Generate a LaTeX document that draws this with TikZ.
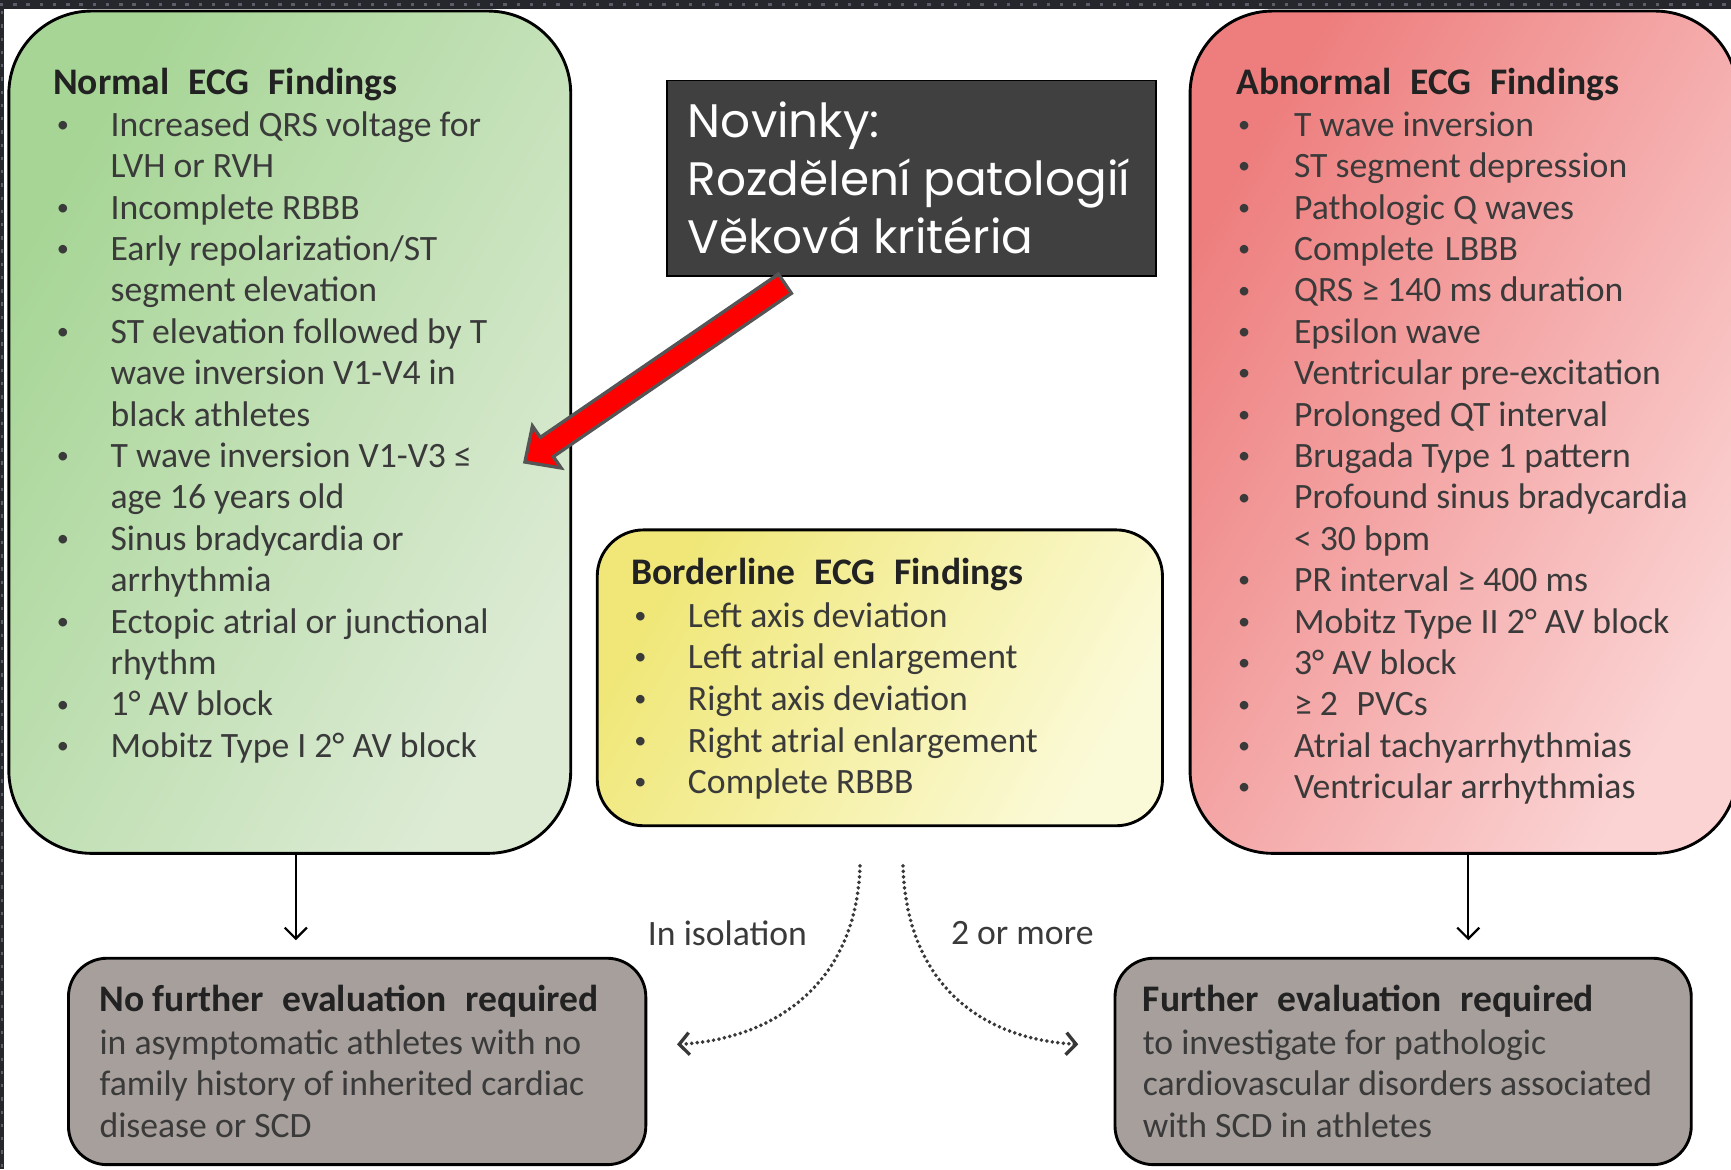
\documentclass[tikz,border=0pt]{standalone}
\usepackage{fontspec}
\setmainfont{Carlito}
\newfontfamily\gothic{Poppins}
\usetikzlibrary{arrows.meta}
\definecolor{bandcol}{HTML}{25272D}
\definecolor{banddot}{HTML}{5A5E68}
\definecolor{gA}{HTML}{A6D595}
\definecolor{gB}{HTML}{DDEBD5}
\definecolor{rA}{HTML}{EE7E7E}
\definecolor{rB}{HTML}{FBD3D3}
\definecolor{yA}{HTML}{F0E778}
\definecolor{yB}{HTML}{FBFAD8}
\definecolor{grayfill}{HTML}{A69F9B}
\definecolor{darkfill}{HTML}{404040}
\definecolor{titlecol}{HTML}{222222}
\definecolor{itemcol}{HTML}{3A3A3A}
\definecolor{arrowedge}{HTML}{555555}
\definecolor{dotcol}{HTML}{383838}
\begin{document}
\begin{tikzpicture}[x=1pt,y=-1pt,
  box/.style={draw=black, line width=2.6pt, inner sep=0pt},
  ttl/.style={font=\fontsize{34}{37.5}\bfseries\selectfont, text=titlecol, inner sep=0pt, anchor=base west},
  it/.style={font=\fontsize{32.3}{37.5}\selectfont, text=itemcol, inner sep=0pt, anchor=base west},
  bu/.style={font=\fontsize{22}{37.5}\selectfont, text=itemcol, inner sep=0pt, anchor=base},
  nov/.style={font=\gothic\fontsize{42.5}{50}\selectfont, text=white, inner sep=0pt, anchor=base west},
  blk/.style={draw=black, line width=2pt, -{Straight Barb[length=10pt,width=20pt,line width=2pt]}},
  dots/.style={draw=dotcol, line width=3.6pt, line cap=round, dash pattern=on 0pt off 5pt,
    -{Straight Barb[length=9pt,width=20pt,line width=3pt]}},
  lbl/.style={font=\fontsize{32.3}{37.5}\selectfont, text=itemcol, inner sep=0pt}
]
\useasboundingbox (0,0) rectangle (1568,1059);
\fill[white] (0,0) rectangle (1568,1059);
% frame bands
\fill[bandcol] (0,0) rectangle (1568,8);
\fill[bandcol] (0,0) rectangle (4,1059);
\draw[banddot, line width=3pt, dash pattern=on 3pt off 9pt] (0,4) -- (1568,4);
\draw[banddot, line width=1.5pt, dash pattern=on 3pt off 9pt] (2,10) -- (2,1059);

% main boxes
\node[box, minimum width=509, minimum height=763, rounded corners=75,
  left color=gA, right color=gB, shading angle=60] (normal) at (262.5,391.5) {};
\node[box, minimum width=496, minimum height=763, rounded corners=75,
  left color=rA, right color=rB, shading angle=60] (abnormal) at (1326,391.5) {};
\node[box, minimum width=512, minimum height=268, rounded corners=42,
  left color=yA, right color=yB, shading angle=60] (border) at (797,614) {};
\node[box, fill=grayfill, minimum width=523, minimum height=187, rounded corners=35] (nofurther) at (323.5,961.5) {};
\node[box, fill=grayfill, minimum width=522, minimum height=187, rounded corners=35] (further) at (1271,961.5) {};
\node[draw=black, line width=1.5pt, fill=darkfill, minimum width=443, minimum height=177, inner sep=0pt] (novinky) at (825.5,161.5) {};

% Normal findings
\node[ttl] (ntitle) at (48,86) {Normal\hspace{.5em}ECG\hspace{.5em}Findings};
\foreach \b/\t [count=\k from 0] in {
  1/{Increased QRS voltage for},
  0/{LVH or RVH},
  1/{Incomplete RBBB},
  1/{Early repolarization/ST},
  0/{segment elevation},
  1/{ST elevation followed by T},
  0/{wave inversion V1-V4 in},
  0/{black athletes},
  1/{T wave inversion V1-V3 ≤},
  0/{age 16 years old},
  1/{Sinus bradycardia or},
  0/{arrhythmia},
  1/{Ectopic atrial or junctional},
  0/{rhythm},
  1/{1° AV block},
  1/{Mobitz Type I 2° AV block}} {
  \node[it] (n\k) at (100,{123.5+37.5*\k}) {\t};
  \ifnum\b=1 \node[bu] (nb\k) at (57,{120+37.5*\k}) {\textbullet}; \fi
}

% Abnormal findings
\node[ttl] (atitle) at (1120,86) {Abnormal\hspace{.5em}ECG\hspace{.5em}Findings};
\foreach \b/\t [count=\k from 0] in {
  1/{T wave inversion},
  1/{ST segment depression},
  1/{Pathologic Q waves},
  1/{Complete\hspace{.3em}LBBB},
  1/{QRS ≥ 140 ms duration},
  1/{Epsilon wave},
  1/{Ventricular pre-excitation},
  1/{Prolonged QT interval},
  1/{Brugada Type 1 pattern},
  1/{Profound sinus bradycardia},
  0/{< 30 bpm},
  1/{PR interval ≥ 400 ms},
  1/{Mobitz Type II 2° AV block},
  1/{3° AV block},
  1/{≥ 2\hspace{.3em} PVCs},
  1/{Atrial tachyarrhythmias},
  1/{Ventricular arrhythmias}} {
  \node[it] (a\k) at (1172,{123.5+37.5*\k}) {\t};
  \ifnum\b=1 \node[bu] (ab\k) at (1127,{120+37.5*\k}) {\textbullet}; \fi
}

% Borderline findings
\node[ttl] (btitle) at (572,529.5) {Borderline\hspace{.5em}ECG\hspace{.5em}Findings};
\foreach \t [count=\k from 0] in {
  {Left axis deviation},
  {Left atrial enlargement},
  {Right axis deviation},
  {Right atrial enlargement},
  {Complete RBBB}} {
  \node[it] (b\k) at (623,{568+37.75*\k}) {\t};
  \node[bu] (bb\k) at (580,{564.5+37.75*\k}) {\textbullet};
}

% Gray outcome boxes
\node[ttl] (nftitle) at (90,916) {No further\hspace{.5em}evaluation\hspace{.5em}required};
\node[it] (nf1) at (90,955) {in asymptomatic athletes with no};
\node[it] (nf2) at (90,992.5) {family history of inherited cardiac};
\node[it] (nf3) at (90,1030) {disease or SCD};
\node[ttl] (ftitle) at (1035,916) {Further\hspace{.5em}evaluation\hspace{.5em}required};
\node[it] (f1) at (1035,955) {to investigate for pathologic};
\node[it] (f2) at (1035,992.5) {cardiovascular disorders associated};
\node[it] (f3) at (1035,1030) {with SCD in athletes};

% Novinky text
\node[nov] (nv1) at (623,125) {Novinky:};
\node[nov] (nv2) at (623,177.5) {Rozdělení patologií};
\node[nov] (nv3) at (623,229.5) {Věková kritéria};

% red block arrow
\filldraw[fill=red, draw=arrowedge, line width=3pt, line join=miter]
  (705.1,248.3) -- (716.9,265.7) -- (501.2,413.6) -- (508.3,423.9) -- (475.5,418.5)
  -- (482.3,385.9) -- (489.4,396.2) -- cycle;

% solid down arrows
\coordinate (gx) at (268,0);
\coordinate (rx) at (1330,0);
\draw[blk, shorten >=15pt] (normal.south -| gx) -- (nofurther.north -| gx);
\draw[blk, shorten >=15pt] (abnormal.south -| rx) -- (further.north -| rx);

% dotted curved arrows
\coordinate (dl) at ([shift={(-18,35)}]border.south);
\coordinate (dr) at ([shift={(21,35)}]border.south);
\coordinate (el) at ([shift={(27,-15.5)}]nofurther.east);
\coordinate (er) at ([shift={(-32,-15.5)}]further.west);
\draw[dots] (dl) .. controls +(-3,105) and +(90,-5) .. (el);
\draw[dots] (dr) .. controls +(3,105) and +(-90,-5) .. (er);
\node[lbl] (iso) at (659,845) {In isolation};
\node[lbl] (more) at (926,845) {2 or more};
\end{tikzpicture}
\end{document}
